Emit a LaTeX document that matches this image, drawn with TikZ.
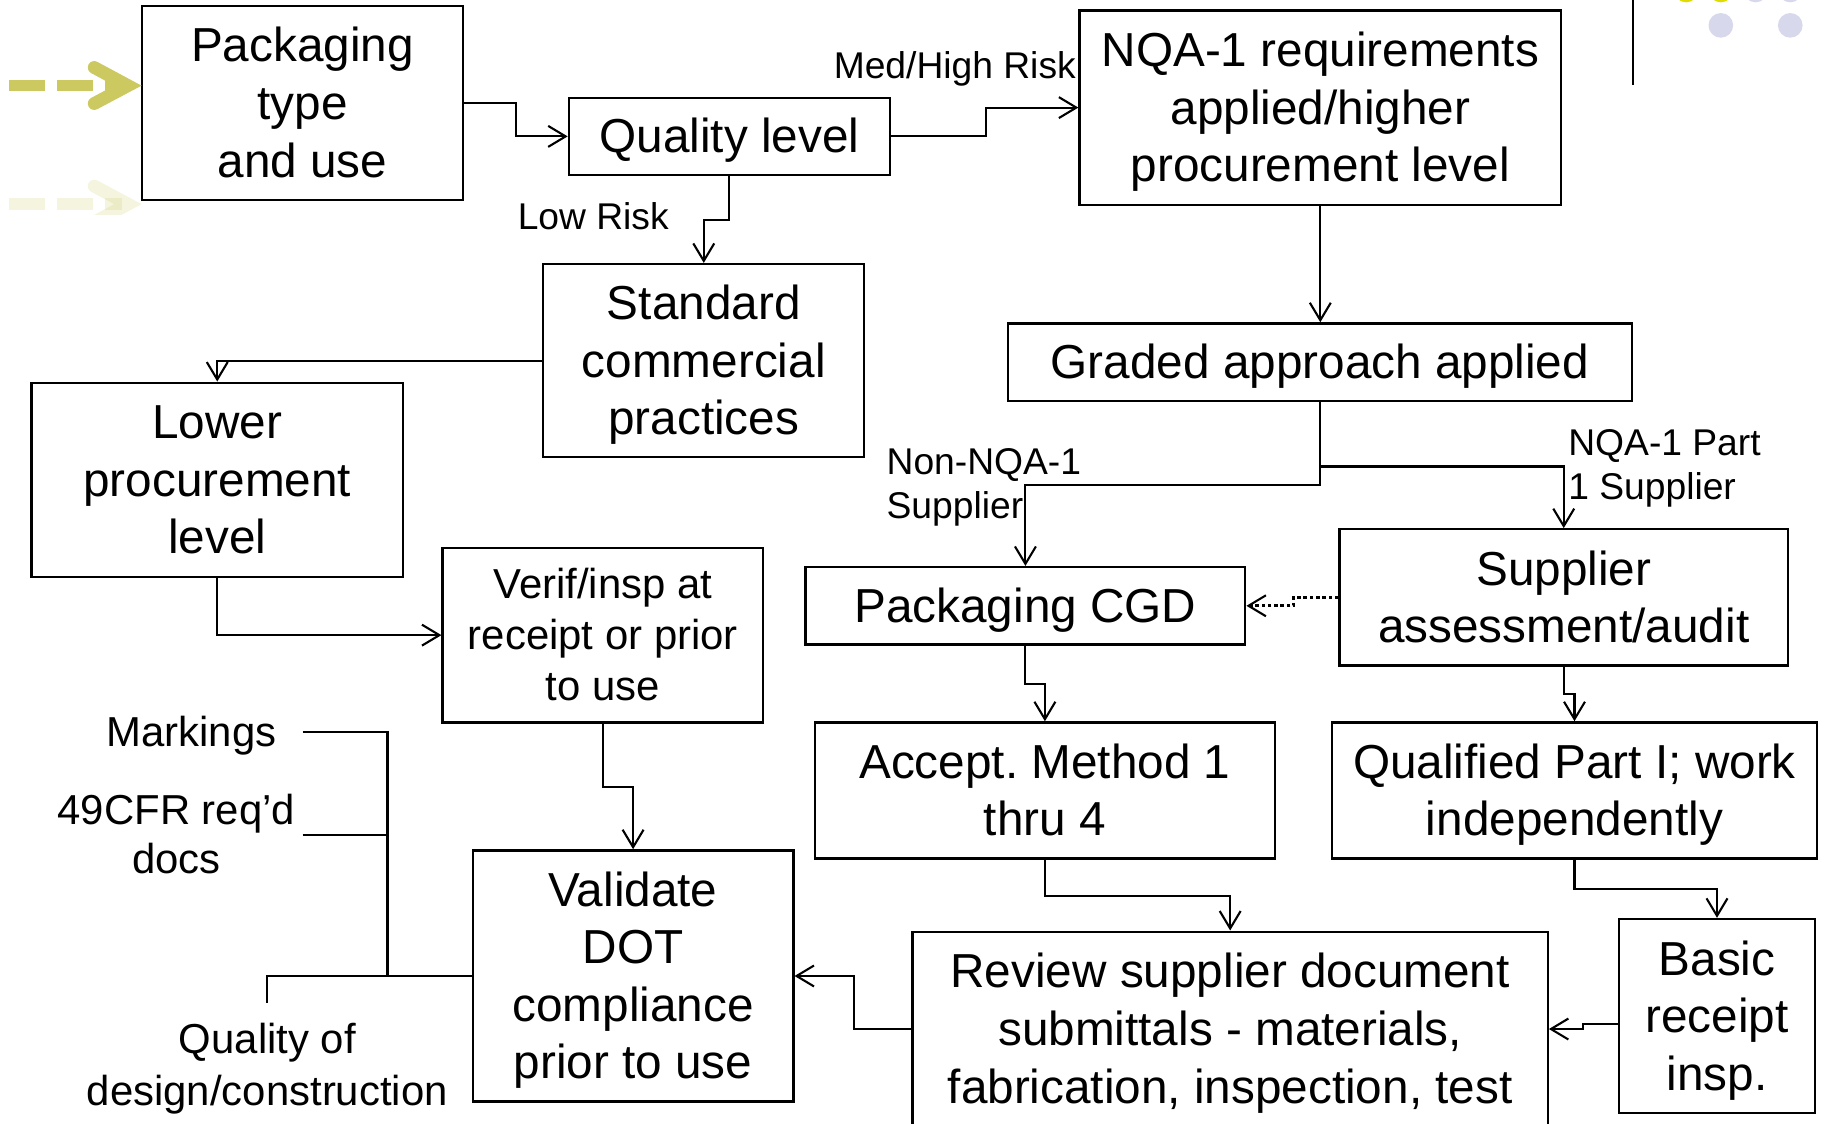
\documentclass[tikz,border=0pt]{standalone}
\usepackage{fontspec}
\setmainfont{Liberation Sans}
\usetikzlibrary{arrows.meta,calc}
\definecolor{arrowolive}{RGB}{203,201,95}
\definecolor{dotlav}{RGB}{216,216,236}
\definecolor{dotyel}{RGB}{222,220,0}
\newcommand{\lnstrut}{\rule[-0.212em]{0pt}{1.117em}}
\frenchspacing
\begin{document}
\begin{tikzpicture}[x=1pt,y=-1pt,
  box/.style={draw,line width=2pt,inner sep=0pt,align=center,font=\fontsize{41}{49.5}\selectfont},
  conn/.style={line width=1.8pt,-{Straight Barb[length=15pt,width=18pt]}},
  dotconn/.style={line width=2.4pt,dash pattern=on 3pt off 2.4pt,-{Straight Barb[length=15pt,width=18pt,line width=1.8pt]}},
  plain/.style={line width=1.8pt},
  lbl/.style={inner sep=0pt,align=left,font=\fontsize{32}{38}\selectfont},
  side/.style={inner sep=0pt,align=center,font=\fontsize{36}{43}\selectfont},
  bigarrow/.style={arrowolive,line width=11pt,line cap=round,line join=miter},
  bigdash/.style={arrowolive,line width=10pt,dash pattern=on 31pt off 10pt}]
\useasboundingbox (0,0) rectangle (1568,966);
\fill[white] (0,0) rectangle (1568,966);
\clip (0,0) rectangle (1568,966);

% boxes
\node[box,minimum width=276pt,minimum height=167pt] (pkg) at (260,88.5) {\lnstrut Packaging\\\lnstrut type\\\lnstrut and use};
\node[box,minimum width=276pt,minimum height=66.5pt] (ql) at (627,117.25) {\lnstrut Quality level};
\node[box,minimum width=414pt,minimum height=167pt] (nqa) at (1135,92.5) {\lnstrut NQA-1 requirements\\\lnstrut applied/higher\\\lnstrut procurement level};
\node[box,minimum width=276pt,minimum height=166pt] (std) at (605,310) {\lnstrut Standard\\\lnstrut commercial\\\lnstrut practices};
\node[box,minimum width=319.5pt,minimum height=167pt] (lower) at (186.75,412.5) {\lnstrut Lower\\\lnstrut procurement\\\lnstrut level};
\node[box,minimum width=536.5pt,minimum height=67pt] (graded) at (1134.75,311.5) {\lnstrut Graded approach applied};
\node[box,font=\fontsize{36}{43.7}\selectfont,minimum width=275.5pt,minimum height=150pt] (verif) at (518.25,546) {\lnstrut Verif/insp at\\\lnstrut receipt or prior\\\lnstrut to use};
\node[box,minimum width=378pt,minimum height=66.5pt] (cgd) at (881.5,520.75) {\lnstrut Packaging CGD};
\node[box,minimum width=385.5pt,minimum height=117pt] (sup) at (1344.25,513.5) {\lnstrut Supplier\\\lnstrut assessment/audit};
\node[box,minimum width=395.5pt,minimum height=117pt] (acc) at (898.25,679.5) {\lnstrut Accept. Method 1\\\lnstrut thru 4};
\node[box,minimum width=417pt,minimum height=117pt] (qual) at (1353.5,679.5) {\lnstrut Qualified Part I; work\\\lnstrut independently};
\node[box,minimum width=275.5pt,minimum height=216pt] (val) at (544.25,839) {\lnstrut Validate\\\lnstrut DOT\\\lnstrut compliance\\\lnstrut prior to use};
\node[box,minimum width=546pt,minimum height=167.4pt] (rev) at (1057.5,884.6) {\lnstrut Review supplier document\\\lnstrut submittals - materials,\\\lnstrut fabrication, inspection, test};
\node[box,minimum width=168pt,minimum height=167pt] (basic) at (1476,873.5) {\lnstrut Basic\\\lnstrut receipt\\\lnstrut insp.};

% connector labels
\node[lbl,anchor=base east] (mh) at (925,67.3) {Med/High Risk};
\node[lbl,anchor=base] (lr) at (510,197.7) {Low Risk};
\node[lbl,anchor=west,font=\fontsize{32}{37.6}\selectfont] (nn) at (762,415.7) {\lnstrut Non-NQA-1\\\lnstrut Supplier};
\node[lbl,anchor=west] (np) at (1348,399.6) {\lnstrut NQA-1 Part\\\lnstrut 1 Supplier};

% side labels
\node[side,anchor=base] (mk) at (164.5,641.8) {Markings};
\node[side,font=\fontsize{36}{41.7}\selectfont] (cfr) at (151.6,717.4) {\lnstrut 49CFR req’d\\\lnstrut docs};
\node[side,font=\fontsize{36}{44.5}\selectfont] (qd) at (229.8,915.3) {\lnstrut Quality of\\\lnstrut design/construction};

% connectors
\draw[conn] (pkg.east) -- ++(44.5,0) |- (ql.west);
\draw[conn] (ql.east) -- ++(81.4,0) |- (nqa.west);
\draw[conn] (ql.south) -- ++(0,37.5) -| (std.north);
\draw[conn] (std.west) -| (lower.north);
\draw[conn] (nqa.south) -- (nqa.south |- graded.north);
\draw[conn] (graded.south) -- ++(0,71) -| (cgd.north);
\draw[conn] ($(graded.south)+(0,55)$) -| (sup.north);
\draw[dotconn] (sup.west) -- ++(-38.5,0) |- (cgd.east);
\draw[conn] (cgd.south) -- ++(0,33) -| (acc.north);
\draw[conn] (sup.south) -- ++(0,23.5) -| (qual.north);
\draw[conn] (lower.south) |- (verif.west);
\draw[conn] (verif.south) -- ++(0,54.7) -| (val.north);
\draw[conn] (acc.south) -- ++(0,31.4) -| (rev.north);
\draw[conn] (qual.south) -- ++(0,25) -| (basic.north);
\draw[conn] ($(basic.west)+(0,6.8)$) -- ++(-30,0) |- (rev.east);
\draw[conn] (rev.west) -- ++(-49.5,0) |- (val.east);

% bracket lines on the left
\coordinate (mkend) at (260.2,629);
\coordinate (cfrend) at (260.2,717.8);
\coordinate (jn) at (333.1,839);
\coordinate (qdtop) at (229.8,862);
\draw[plain] (mkend) -| (jn);
\draw[plain] (cfrend) -- (cfrend -| jn);
\draw[plain] (qdtop) |- (val.west);

% decorative arrows (top left)
\draw[bigdash] (8,73.6) -- (105,73.6);
\draw[bigarrow] (81,58) -- (110,73.6) -- (81,89);
\begin{scope}
  \clip (0,150) rectangle (140,184);
  \draw[bigdash,opacity=0.2] (8,175.5) -- (105,175.5);
  \draw[bigarrow,opacity=0.2] (81,160) -- (110,175.5) -- (81,191);
\end{scope}

% decoration (top right)
\draw[line width=2pt] (1403.5,0) -- (1403.5,73);
\fill[dotyel] (1449.5,-8.6) circle (10.6pt);
\fill[dotyel] (1479.3,-8.6) circle (10.6pt);
\fill[dotlav] (1509.2,-8.6) circle (10.6pt);
\fill[dotlav] (1539,-8.6) circle (10.6pt);
\fill[dotlav] (1479.3,21.8) circle (10.6pt);
\fill[dotlav] (1539,21.8) circle (10.6pt);
\end{tikzpicture}
\end{document}
